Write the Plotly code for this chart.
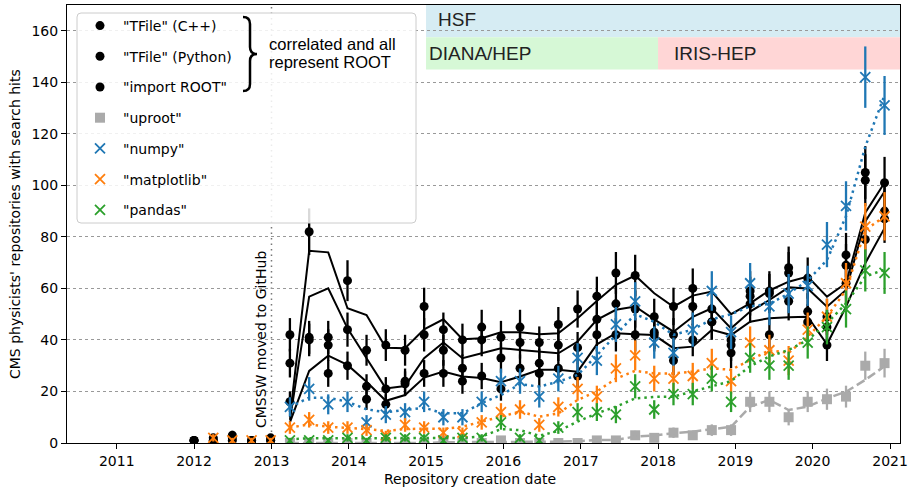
import numpy as np
import plotly.graph_objects as go

# ---------------- data ----------------
DATES = ["2012-01-01", "2012-04-01", "2012-06-30", "2012-09-29", "2012-12-28",
         "2013-03-29", "2013-06-28", "2013-09-26", "2013-12-26",
         "2014-03-26", "2014-06-25", "2014-09-24", "2014-12-23",
         "2015-03-24", "2015-06-22", "2015-09-21", "2015-12-21",
         "2016-03-20", "2016-06-19", "2016-09-17", "2016-12-17",
         "2017-03-18", "2017-06-16", "2017-09-15", "2017-12-14",
         "2018-03-15", "2018-06-14", "2018-09-12", "2018-12-12",
         "2019-03-12", "2019-06-11", "2019-09-10", "2019-12-09",
         "2020-03-09", "2020-06-07", "2020-09-06", "2020-12-06"]

N = None
TFILE_CPP = [1, 2, 3, 1, 2, 42, 82, 41, 63, 36, 38, 36, 53, 44, 40, 45, 41, 45, 39, 46, 52,
             57, 66, 65, 49, 53, 60, 52, 40, 59, 59, 68, 64, 49, 73, 105, 101]
TFILE_PY = [1, 1, 2, 1, 1, 31, 41, 38, 44, 22, 21, 24, 42, 36, 29, 40, 33, 39, 31, 38, 37,
            48, 54, 52, 43, 42, 53, 47, 38, 57, 58, 66, 51, 45, 69, 102, 90]
IMPORT_ROOT = [1, 1, 1, 0, 1, 16, 40, 27, 30, 17, 15, 23, 27, 27, 24, 26, 21, 29, 27, 29, 26,
               42, 42, 42, 42, 32, 40, 47, 35, 54, 42, 55, 47, 38, 62, 79, 87]

ROOT_TREND_TOP = [N, N, N, N, N, 10, 74.6, 74, 52.3, 49.7, 37, 36.8, 44.1, 48, 40.3, 40.7, 43, 43,
                  42.2, 42.6, 48.4, 55.1, 61.4, 65, 58.1, 52.9, 57.2, 58.8, 50, 54.2, 59.2, 62.6,
                  64.6, 56.8, 62, 89.4, 101]
ROOT_TREND_MID = [N, N, N, N, N, 9, 56.8, 60, 44.5, 32.9, 21.2, 22.1, 32.9, 39, 32.9, 34.8, 36.8,
                  36.1, 35.5, 34.8, 39.4, 47.8, 51.7, 53, 48, 43.2, 49, 52.3, 44.5, 51, 55.5, 60.4,
                  60, 52.9, 59.4, 86, 97.6]
ROOT_TREND_LOW = [N, N, N, N, N, 8, 28, 33.9, 30.3, 23.8, 16.4, 18.6, 25.4, 27.7, 25.8, 25.2, 23.6,
                  25.8, 28.4, 28.4, 27.7, 38.3, 42.6, 42.2, 41.9, 36.8, 37.4, 43.9, 41.9, 47.1, 48.4,
                  48.8, 49, 38.3, 52.9, 69.8, 83.4]

UPROOT = [N, N, N, N, N, 0, 0, 0, 0, 0, 0, 0, 0, 1, 0, 0, 1, 0, 0, 0, 0,
          1, 1, 3, 2, 4, 3, 5, 5, 16, 16, 10, 16, 17, 18, 30, 31]
UPROOT_TREND = [N, N, N, N, N, 0, 0, 0, 0, 0, 0, 0, 0, 0.3, 0.3, 0.3, 0.5, 0.5, 0.5, 0.5, 0.7,
                1.2, 1.2, 2.5, 2.9, 3.8, 4.4, 5.4, 6.3, 14.1, 16.7, 12.8, 14.1, 17.3, 19.9, 24.5, 29.8]

NUMPY = [N, N, N, N, N, 14, 21, 15, 16, 8, 11, 12, 16, 10, 10, 16, 24, 24, 18, 25, 33,
         32, 46, 55, 39, 35, 44, 59, 43, 62, 53, 58, 61, 77, 92, 142, 131]
NUMPY_TREND = [N, N, N, N, N, 14, 17.6, 17.6, 16, 13.1, 11.9, 12.8, 13.7, 11.5, 11.5, 15.5, 18.6,
               22.8, 21.9, 23.8, 26.4, 34, 42, 50, 47, 42, 44, 48, 50, 53, 54, 58, 63, 71, 88, 115, 135]

MATPLOTLIB = [N, 2, 1, 1, 1, 6, 9, 6, 6, 5, 3, 7, 6, 4, 4, 8, 12, 13, 7, 14, 21,
              18, 29, 34, 25, 25, 26, 31, 24, 39, 36, 32, 44, 49, 62, 84, 88]
MATPLOTLIB_TREND = [N, N, N, N, N, 6, 7.2, 6.3, 5.9, 5.4, 4.7, 5.4, 5.6, 5.4, 6.3, 8.3, 10.2, 12.2,
                    10.2, 11.5, 16.7, 20, 25, 28, 27, 27, 27.7, 29, 28.4, 32.2, 36, 35, 41.3, 49,
                    59.4, 82.7, 87.9]

PANDAS = [N, N, N, N, N, 1, 1, 1, 2, 1, 2, 2, 2, 1, 2, 2, 8, 2, 1, 6, 12,
          12, 11, 22, 13, 19, 19, 25, 16, 33, 30, 30, 39, 45, 52, 67, 66]
PANDAS_TREND = [N, N, N, N, N, 1.5, 1.8, 1.8, 1.8, 1.8, 1.8, 1.8, 1.8, 1.8, 2, 2.5, 5.4, 5, 2.8,
                4.7, 8.3, 11.5, 14.1, 17.3, 17.9, 18, 20, 22, 24, 29.8, 33.6, 36.1, 40, 46.4, 54.2,
                64.6, 67.3]

YTICKS = [0, 20, 40, 60, 80, 100, 120, 140, 160]
XTICK_YEARS = [2011, 2012, 2013, 2014, 2015, 2016, 2017, 2018, 2019, 2020, 2021]

# ---------------- layout helpers ----------------
W, H = 912, 490
ML, MR, MT, MB = 67, 12, 5, 47
PW, PH = W - ML - MR, H - MT - MB
YBOT = MT + PH


def pxx(x):
    return (x - ML) / PW


def pxy(y):
    return (YBOT - y) / PH


BLUE, ORANGE, GREEN, GRAY = "#1f77b4", "#ff7f0e", "#2ca02c", "#aaaaaa"
FONT = "DejaVu Sans"
SANS = "Liberation Sans"

fig = go.Figure()


def errs(vals):
    return [float(np.sqrt(v)) if v is not None else 0.0 for v in vals]


def add_points(name, vals, color, symbol, size, lw=0):
    marker = dict(symbol=symbol, size=size, color=color)
    if lw:
        marker["line"] = dict(width=lw, color=color)
    else:
        marker["line"] = dict(width=0)
    fig.add_trace(go.Scatter(
        x=DATES, y=vals, mode="markers", name=name, legendgroup=name,
        marker=marker,
        error_y=dict(type="data", array=errs(vals), visible=True,
                     thickness=2.3, width=0, color=color),
        hoverinfo="skip"))


def add_line(vals, color, width, dash):
    fig.add_trace(go.Scatter(
        x=DATES, y=vals, mode="lines", showlegend=False,
        line=dict(color=color, width=width, dash=dash), hoverinfo="skip"))


add_points('"TFile" (C++)', TFILE_CPP, "black", "circle", 9)
add_line(ROOT_TREND_TOP, "black", 2, "solid")
add_points('"TFile" (Python)', TFILE_PY, "black", "circle", 9)
add_line(ROOT_TREND_MID, "black", 2, "solid")
add_points('"import ROOT"', IMPORT_ROOT, "black", "circle", 9)
add_line(ROOT_TREND_LOW, "black", 2, "solid")
add_points('"uproot"', UPROOT, GRAY, "square", 10)
add_line(UPROOT_TREND, GRAY, 2.5, "9px,4px")
add_points('"numpy"', NUMPY, BLUE, "x-thin", 10, 1.8)
add_line(NUMPY_TREND, BLUE, 2.5, "2.5px,4px")
add_points('"matplotlib"', MATPLOTLIB, ORANGE, "x-thin", 10, 1.8)
add_line(MATPLOTLIB_TREND, ORANGE, 2.5, "2.5px,4px")
add_points('"pandas"', PANDAS, GREEN, "x-thin", 10, 1.8)
add_line(PANDAS_TREND, GREEN, 2.5, "2.5px,4px")

XMIN, XMAX = "2010-05-11", "2021-02-17"
shapes = []
# funding bands
shapes.append(dict(type="rect", xref="x", yref="y", x0="2015-01-01", x1=XMAX, y0=157.5, y1=170,
                   fillcolor="rgb(214,236,243)", line=dict(width=0), layer="below"))
shapes.append(dict(type="rect", xref="x", yref="y", x0="2015-01-01", x1="2018-01-01", y0=145, y1=157.5,
                   fillcolor="rgb(214,248,214)", line=dict(width=0), layer="below"))
shapes.append(dict(type="rect", xref="x", yref="y", x0="2018-01-01", x1=XMAX, y0=145, y1=157.5,
                   fillcolor="rgb(255,214,214)", line=dict(width=0), layer="below"))
# CMSSW vertical line
shapes.append(dict(type="line", xref="x", yref="paper", x0="2013-01-01", x1="2013-01-01", y0=0, y1=1,
                   line=dict(color="#777777", width=1.5, dash="1.5px,4px"), layer="below"))

# legend frame (rounded)
lx0, lx1, ly0, ly1, r = 77, 416, 13, 223, 4
path = (f"M {pxx(lx0 + r)},{pxy(ly0)} L {pxx(lx1 - r)},{pxy(ly0)} "
        f"Q {pxx(lx1)},{pxy(ly0)} {pxx(lx1)},{pxy(ly0 + r)} L {pxx(lx1)},{pxy(ly1 - r)} "
        f"Q {pxx(lx1)},{pxy(ly1)} {pxx(lx1 - r)},{pxy(ly1)} L {pxx(lx0 + r)},{pxy(ly1)} "
        f"Q {pxx(lx0)},{pxy(ly1)} {pxx(lx0)},{pxy(ly1 - r)} L {pxx(lx0)},{pxy(ly0 + r)} "
        f"Q {pxx(lx0)},{pxy(ly0)} {pxx(lx0 + r)},{pxy(ly0)} Z")
shapes.append(dict(type="path", xref="paper", yref="paper", path=path,
                   fillcolor="rgba(255,255,255,0.85)", line=dict(color="#cccccc", width=1), layer="above"))

# brace
bx0, bx1, bx2 = 243, 250, 257
by0, by1, bym, by3, by4 = 17, 24, 54, 84, 91
brace = (f"M {pxx(bx0)},{pxy(by0)} Q {pxx(bx1)},{pxy(by0)} {pxx(bx1)},{pxy(by1)} "
         f"L {pxx(bx1)},{pxy(bym - 7)} Q {pxx(bx1)},{pxy(bym)} {pxx(bx2)},{pxy(bym)} "
         f"Q {pxx(bx1)},{pxy(bym)} {pxx(bx1)},{pxy(bym + 7)} L {pxx(bx1)},{pxy(by3)} "
         f"Q {pxx(bx1)},{pxy(by4)} {pxx(bx0)},{pxy(by4)}")
shapes.append(dict(type="path", xref="paper", yref="paper", path=brace,
                   line=dict(color="black", width=2.5), layer="above"))

annotations = [
    dict(text="HSF", x="2015-02-18", y=164.2, xref="x", yref="y", xanchor="left", yanchor="middle",
         showarrow=False, font=dict(family=SANS, size=19, color="#222")),
    dict(text="DIANA/HEP", x="2015-01-05", y=151.2, xref="x", yref="y", xanchor="left", yanchor="middle",
         showarrow=False, font=dict(family=SANS, size=19, color="#222")),
    dict(text="IRIS-HEP", x="2018-03-08", y=151.2, xref="x", yref="y", xanchor="left", yanchor="middle",
         showarrow=False, font=dict(family=SANS, size=19, color="#222")),
    dict(text="CMSSW moved to GitHub", x="2013-01-01", y=5, xref="x", yref="y", xanchor="right",
         yanchor="bottom", xshift=-1, textangle=-90, showarrow=False,
         font=dict(family=FONT, size=14, color="black")),
    dict(text="correlated and all", x=pxx(267), y=pxy(44), xref="paper", yref="paper",
         xanchor="left", yanchor="middle", showarrow=False, font=dict(family=SANS, size=16.5, color="black")),
    dict(text="represent ROOT", x=pxx(267), y=pxy(62), xref="paper", yref="paper",
         xanchor="left", yanchor="middle", showarrow=False, font=dict(family=SANS, size=16.5, color="black")),
    dict(text="CMS physicists' repositories with search hits", x=pxx(15), y=pxy(224), xref="paper",
         yref="paper", xanchor="center", yanchor="middle", textangle=-90, showarrow=False,
         font=dict(family=FONT, size=14, color="black")),
    dict(text="Repository creation date", x=pxx(470), y=pxy(479), xref="paper", yref="paper",
         xanchor="center", yanchor="middle", showarrow=False, font=dict(family=FONT, size=14, color="black")),
]

fig.update_layout(
    width=W, height=H, margin=dict(l=ML, r=MR, t=MT, b=MB, pad=0, autoexpand=False),
    paper_bgcolor="white", plot_bgcolor="white",
    shapes=shapes, annotations=annotations,
    showlegend=True,
    legend=dict(x=pxx(77), y=pxy(10), xanchor="left", yanchor="top", bgcolor="rgba(0,0,0,0)",
                borderwidth=0, font=dict(family=FONT, size=14, color="black"),
                traceorder="grouped", tracegroupgap=9.5, itemwidth=36),
    xaxis=dict(type="date", range=[XMIN, XMAX], automargin=False,
               tickvals=[f"{y}-01-01" for y in XTICK_YEARS], ticktext=[str(y) for y in XTICK_YEARS],
               ticks="outside", ticklen=5, tickwidth=1, tickcolor="black",
               showline=True, linecolor="black", linewidth=1, mirror=True,
               showgrid=False, zeroline=False,
               tickfont=dict(family=FONT, size=14, color="black")),
    yaxis=dict(range=[0, 170], tickvals=YTICKS, ticktext=[str(v) for v in YTICKS], automargin=False,
               ticks="outside", ticklen=5, tickwidth=1, tickcolor="black",
               showline=True, linecolor="black", linewidth=1, mirror=True,
               showgrid=True, gridcolor="#999999", gridwidth=1, griddash="dot", zeroline=False,
               tickfont=dict(family=FONT, size=14, color="black")),
)

fig.write_html("out.html", config={"displayModeBar": False},
               post_script="document.body.style.margin='0px';")
